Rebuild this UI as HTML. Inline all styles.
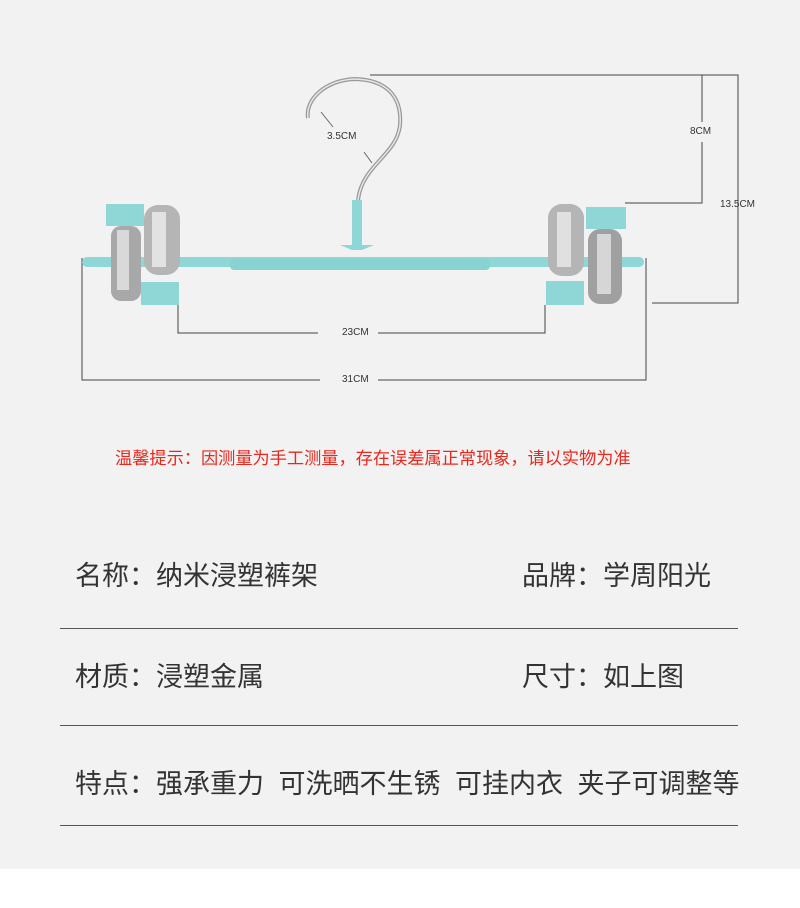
<!DOCTYPE html>
<html><head><meta charset="utf-8"><style>
body{margin:0;width:800px;height:908px;background:#fff;position:relative;overflow:hidden;font-family:"Liberation Sans","Noto Sans CJK SC",sans-serif}
#bg{position:absolute;left:0;top:0;width:800px;height:869px;background:#f2f2f2}
.t{position:absolute;color:#333;font-size:27px;line-height:30px;white-space:nowrap}
.hl{position:absolute;left:60px;width:678px;height:1px;background:#555}
.s{position:absolute;font-size:10px;color:#333;white-space:nowrap;line-height:12px}
</style></head><body>
<div id="bg"></div>
<svg width="800" height="420" style="position:absolute;left:0;top:0">
<g stroke="#444" stroke-width="1" fill="none">
<path d="M370 75H738V303H652"/>
<path d="M702 75V122M702 142V203H625"/>
<path d="M178 305V333H318M378 333H545V305"/>
<path d="M82 258V380H320M378 380H646V258"/>
<path d="M321 112L333 127M364 152L372 163" stroke="#666"/>
</g>
<path d="M308 118C305 100 325 80 355 79C390 80 402 100 400 125C397 155 362 165 358 200" stroke="#999" stroke-width="4" fill="none"/>
<path d="M308 118C305 100 325 80 355 79C390 80 402 100 400 125C397 155 362 165 358 200" stroke="#e6e6e6" stroke-width="1.5" fill="none"/>
<rect x="352" y="200" width="10" height="45" fill="#8ed7d6"/>
<path d="M340 245L352 250H362L374 245Z" fill="#8ed7d6"/>
<rect x="82" y="257" width="562" height="10" rx="5" fill="#8ed7d6"/>
<rect x="230" y="259" width="260" height="11" rx="4" fill="#88d2d1"/>
<rect x="106" y="204" width="38" height="22" fill="#8ed7d6"/>
<rect x="111" y="226" width="30" height="75" rx="10" fill="#a8a8a8"/>
<rect x="117" y="230" width="12" height="60" fill="#d9d9d9"/>
<rect x="144" y="205" width="36" height="70" rx="14" fill="#b5b5b5"/>
<rect x="152" y="212" width="14" height="55" fill="#e2e2e2"/>
<rect x="141" y="282" width="38" height="23" fill="#8ed7d6"/>
<rect x="548" y="204" width="36" height="72" rx="14" fill="#b5b5b5"/>
<rect x="557" y="212" width="14" height="55" fill="#e0e0e0"/>
<rect x="546" y="281" width="38" height="24" fill="#8ed7d6"/>
<rect x="586" y="207" width="40" height="22" fill="#8ed7d6"/>
<rect x="588" y="229" width="34" height="75" rx="12" fill="#a0a0a0"/>
<rect x="597" y="234" width="14" height="60" fill="#d6d6d6"/>
</svg>
<div class="s" style="left:327px;top:131px">3.5CM</div>
<div class="s" style="left:690px;top:126px">8CM</div>
<div class="s" style="left:720px;top:199px">13.5CM</div>
<div class="s" style="left:342px;top:327px">23CM</div>
<div class="s" style="left:342px;top:374px">31CM</div>
<div style="position:absolute;left:115px;top:449px;font-size:17.2px;color:#e8281e;white-space:nowrap;line-height:18px">温馨提示：因测量为手工测量，存在误差属正常现象，请以实物为准</div>
<div class="t" style="left:75px;top:561px">名称：纳米浸塑裤架</div>
<div class="t" style="left:522px;top:561px">品牌：学周阳光</div>
<div class="hl" style="top:628px"></div>
<div class="t" style="left:75px;top:662px">材质：浸塑金属</div>
<div class="t" style="left:522px;top:662px">尺寸：如上图</div>
<div class="hl" style="top:725px"></div>
<div class="t" style="left:75px;top:769px;word-spacing:7px">特点：强承重力 可洗晒不生锈 可挂内衣 夹子可调整等</div>
<div class="hl" style="top:825px"></div>
</body></html>
